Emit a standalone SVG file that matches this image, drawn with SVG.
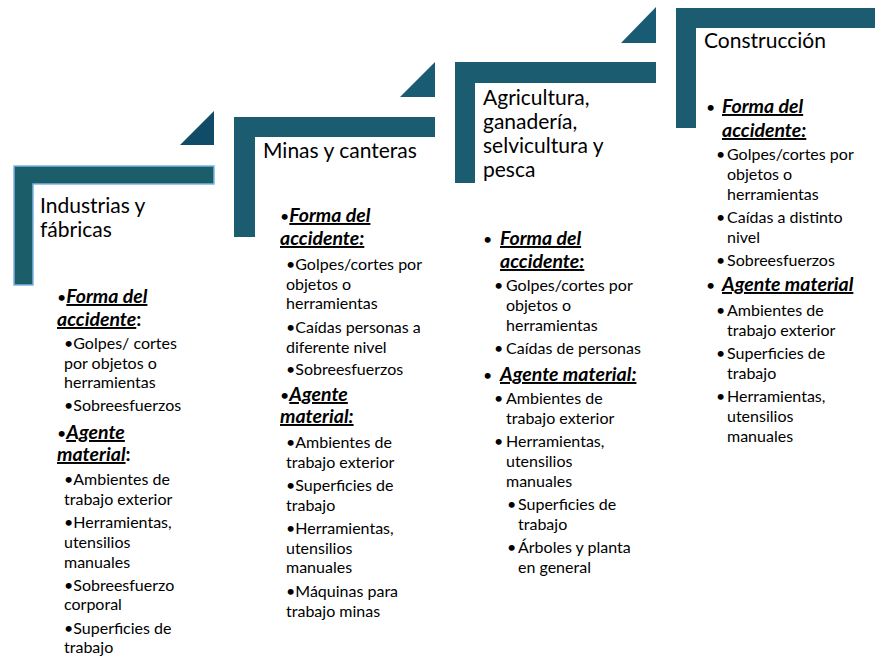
<svg xmlns="http://www.w3.org/2000/svg" width="875" height="658" viewBox="0 0 875 658">
<style>
text{font-family:Lato,"Liberation Sans",sans-serif;fill:#000}
.t{font-size:21px}
.h{font-size:19.5px;font-weight:bold}
.b{font-size:16px;font-weight:normal}
.s{font-size:16px}
.u{font-style:italic;text-decoration:underline}
.bar{fill:#1B5C70}
.tri{fill:#1A5B74}
</style>
<rect width="875" height="658" fill="#fff"/>
<g id="step1">
<polygon class="bar" points="14,166 214,166 214,184 33,184 33,285 14,285" style="fill:#1C5D6A;stroke:#7FB2E0;stroke-width:1.5"/>
<polygon class="tri" points="180,145 214,111 214,145" style="fill:#104C68"/>
<text class="t" x="40" y="213">Industrias y</text>
<text class="t" x="40" y="237">fábricas</text>
<text class="h" x="57" y="303"><tspan class="b">•</tspan><tspan class="u">Forma del</tspan></text>
<text class="h" x="57" y="326"><tspan class="u">accidente</tspan>:</text>
<text class="s" x="64" y="349">•Golpes/ cortes</text>
<text class="s" x="64" y="369">por objetos o</text>
<text class="s" x="64" y="388">herramientas</text>
<text class="s" x="64" y="411">•Sobreesfuerzos</text>
<text class="h" x="57" y="439"><tspan class="b">•</tspan><tspan class="u">Agente</tspan></text>
<text class="h" x="57" y="461"><tspan class="u">material</tspan>:</text>
<text class="s" x="64" y="485">•Ambientes de</text>
<text class="s" x="64" y="505">trabajo exterior</text>
<text class="s" x="64" y="528">•Herramientas,</text>
<text class="s" x="64" y="548">utensilios</text>
<text class="s" x="64" y="568">manuales</text>
<text class="s" x="64" y="591">•Sobreesfuerzo</text>
<text class="s" x="64" y="610">corporal</text>
<text class="s" x="64" y="634">•Superficies de</text>
<text class="s" x="64" y="653">trabajo</text>
</g>
<g id="step2">
<polygon class="bar" points="234,117 435,117 435,137 255,137 255,237 234,237"/>
<polygon class="tri" points="400,97 435,62 435,97"/>
<text class="t" x="263" y="158">Minas y canteras</text>
<text class="h" x="280" y="222"><tspan class="b">•</tspan><tspan class="u">Forma del</tspan></text>
<text class="h" x="280" y="245"><tspan class="u">accidente:</tspan></text>
<text class="s" x="286" y="270">•Golpes/cortes por</text>
<text class="s" x="286" y="290">objetos o</text>
<text class="s" x="286" y="309">herramientas</text>
<text class="s" x="286" y="333">•Caídas personas a</text>
<text class="s" x="286" y="353">diferente nivel</text>
<text class="s" x="286" y="375">•Sobreesfuerzos</text>
<text class="h" x="280" y="401"><tspan class="b">•</tspan><tspan class="u">Agente</tspan></text>
<text class="h" x="280" y="423"><tspan class="u">material:</tspan></text>
<text class="s" x="286" y="448">•Ambientes de</text>
<text class="s" x="286" y="468">trabajo exterior</text>
<text class="s" x="286" y="491">•Superficies de</text>
<text class="s" x="286" y="511">trabajo</text>
<text class="s" x="286" y="534">•Herramientas,</text>
<text class="s" x="286" y="554">utensilios</text>
<text class="s" x="286" y="573">manuales</text>
<text class="s" x="286" y="597">•Máquinas para</text>
<text class="s" x="286" y="617">trabajo minas</text>
</g>
<g id="step3">
<polygon class="bar" points="455,62 656,62 656,83 475,83 475,183 455,183"/>
<polygon class="tri" points="621,43 656,7 656,43"/>
<text class="t" x="483" y="105">Agricultura,</text>
<text class="t" x="483" y="129">ganadería,</text>
<text class="t" x="483" y="153">selvicultura y</text>
<text class="t" x="483" y="177">pesca</text>
<text class="h" x="483" y="245"><tspan class="b">•</tspan></text>
<text class="h" x="500" y="245"><tspan class="u">Forma del</tspan></text>
<text class="h" x="500" y="268"><tspan class="u">accidente:</tspan></text>
<text class="s" x="494" y="291">•</text><text class="s" x="506" y="291">Golpes/cortes por</text>
<text class="s" x="506" y="311">objetos o</text>
<text class="s" x="506" y="331">herramientas</text>
<text class="s" x="494" y="354">•</text><text class="s" x="506" y="354">Caídas de personas</text>
<text class="h" x="483" y="381"><tspan class="b">•</tspan></text>
<text class="h" x="500" y="381"><tspan class="u">Agente material:</tspan></text>
<text class="s" x="494" y="404">•</text><text class="s" x="506" y="404">Ambientes de</text>
<text class="s" x="506" y="424">trabajo exterior</text>
<text class="s" x="494" y="447">•</text><text class="s" x="506" y="447">Herramientas,</text>
<text class="s" x="506" y="467">utensilios</text>
<text class="s" x="506" y="487">manuales</text>
<text class="s" x="507" y="510">•</text><text class="s" x="518" y="510">Superficies de</text>
<text class="s" x="518" y="530">trabajo</text>
<text class="s" x="507" y="553">•</text><text class="s" x="518" y="553">Árboles y planta</text>
<text class="s" x="518" y="573">en general</text>
</g>
<g id="step4">
<polygon class="bar" points="676,8 875,8 875,28 696,28 696,128 676,128"/>
<text class="t" x="704" y="48">Construcción</text>
<text class="h" x="706" y="113"><tspan class="b">•</tspan></text>
<text class="h" x="722" y="113"><tspan class="u">Forma del</tspan></text>
<text class="h" x="722" y="137"><tspan class="u">accidente:</tspan></text>
<text class="s" x="716" y="160">•</text><text class="s" x="727" y="160">Golpes/cortes por</text>
<text class="s" x="727" y="180">objetos o</text>
<text class="s" x="727" y="200">herramientas</text>
<text class="s" x="716" y="223">•</text><text class="s" x="727" y="223">Caídas a distinto</text>
<text class="s" x="727" y="243">nivel</text>
<text class="s" x="716" y="266">•</text><text class="s" x="727" y="266">Sobreesfuerzos</text>
<text class="h" x="706" y="291"><tspan class="b">•</tspan></text>
<text class="h" x="722" y="291"><tspan class="u">Agente material</tspan></text>
<text class="s" x="716" y="316">•</text><text class="s" x="727" y="316">Ambientes de</text>
<text class="s" x="727" y="336">trabajo exterior</text>
<text class="s" x="716" y="359">•</text><text class="s" x="727" y="359">Superficies de</text>
<text class="s" x="727" y="379">trabajo</text>
<text class="s" x="716" y="402">•</text><text class="s" x="727" y="402">Herramientas,</text>
<text class="s" x="727" y="422">utensilios</text>
<text class="s" x="727" y="442">manuales</text>
</g>
<g id="connectors"></g>
</svg>
